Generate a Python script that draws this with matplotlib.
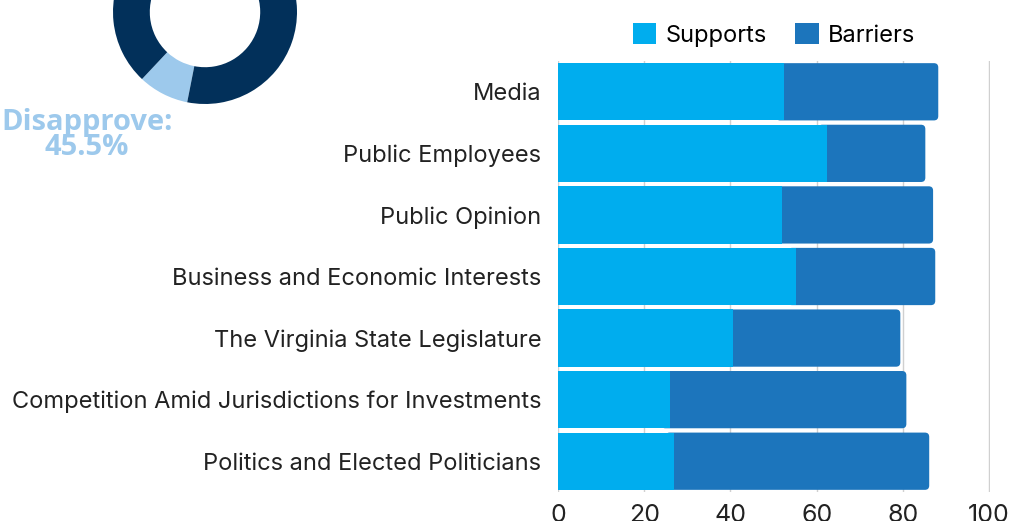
import numpy as np
import matplotlib.pyplot as plt
from matplotlib.patches import FancyBboxPatch, Patch

# data
categories = ["Media", "Public Employees", "Public Opinion",
              "Business and Economic Interests", "The Virginia State Legislature",
              "Competition Amid Jurisdictions for Investments",
              "Politics and Elected Politicians"]
supports = [52.5, 62.3, 51.9, 55.3, 40.5, 25.9, 26.9]
barriers = [35.7, 22.9, 35.1, 32.2, 38.9, 54.9, 59.2]
series_names = ["Supports", "Barriers"]

donut_shares = [8.9, 91.1]
donut_label = "Disapprove:\n45.5%"

c_sup = "#00ADEE"
c_bar = "#1C75BC"
c_navy = "#02305A"
c_light = "#9DC9EC"

plt.rcParams['font.family'] = ['Inter', 'DejaVu Sans']

fig = plt.figure(figsize=(10.12, 5.21), dpi=100)

# main stacked bars
ax = fig.add_axes([558/1012, 29/521, 432/1012, 431/521])
y = np.arange(len(categories))
ax.barh(y, supports, height=0.93, color=c_sup, zorder=3)
bars = ax.barh(y, barriers, left=supports, height=0.93, color=c_bar, zorder=2)
ax.set_ylim(len(categories) - 0.5, -0.5)
ax.set_xlim(0, 100.2)

# round the right end of the barrier bars
xpx = 432 / 100.2
ypx = 431 / len(categories)
for b in bars:
    x0, y0 = b.get_x(), b.get_y()
    w, h = b.get_width(), b.get_height()
    p = FancyBboxPatch((x0 - 2, y0), w + 2, h,
                       boxstyle="round,pad=0,rounding_size=1.0",
                       mutation_aspect=xpx / ypx, facecolor=c_bar,
                       edgecolor='none', zorder=2)
    ax.add_patch(p)
    b.set_visible(False)

ax.set_xticks([0, 20, 40, 60, 80, 100])
ax.set_yticks(y)
ax.set_yticklabels(categories, fontsize=17, color="#222222")
ax.tick_params(axis='x', labelsize=18, length=0, pad=9, colors="#222222")
ax.tick_params(axis='y', length=0, pad=12)
ax.grid(axis='x', color="#D0D0D0", linewidth=1, zorder=0)
for s in ax.spines.values():
    s.set_visible(False)
handles = [Patch(facecolor=c_sup), Patch(facecolor=c_bar)]
ax.legend(handles, series_names, loc='lower center', bbox_to_anchor=(0.5, 1.0),
          ncol=2, frameon=False, fontsize=17, handlelength=1.0, handleheight=1.0,
          columnspacing=1.2, handletextpad=0.4, borderaxespad=0.2)

# donut, cut off at the top of the figure
ax2 = fig.add_axes([113/1012, 417/521, 184/1012, 184/521])
ax2.pie(donut_shares, colors=[c_light, c_navy], startangle=226.8, counterclock=True,
        wedgeprops=dict(width=0.4, edgecolor='none'))
ax2.set_xlim(-1, 1)
ax2.set_ylim(-1, 1)
ax2.set_aspect('equal')
ax2.axis('off')

fig.text(87/1012, 1 - 135/521, donut_label, ha='center', va='center', fontsize=21,
         fontweight='bold', family=['Open Sans', 'DejaVu Sans'], color=c_light,
         linespacing=0.85)

fig.savefig("out.png", dpi=100)
